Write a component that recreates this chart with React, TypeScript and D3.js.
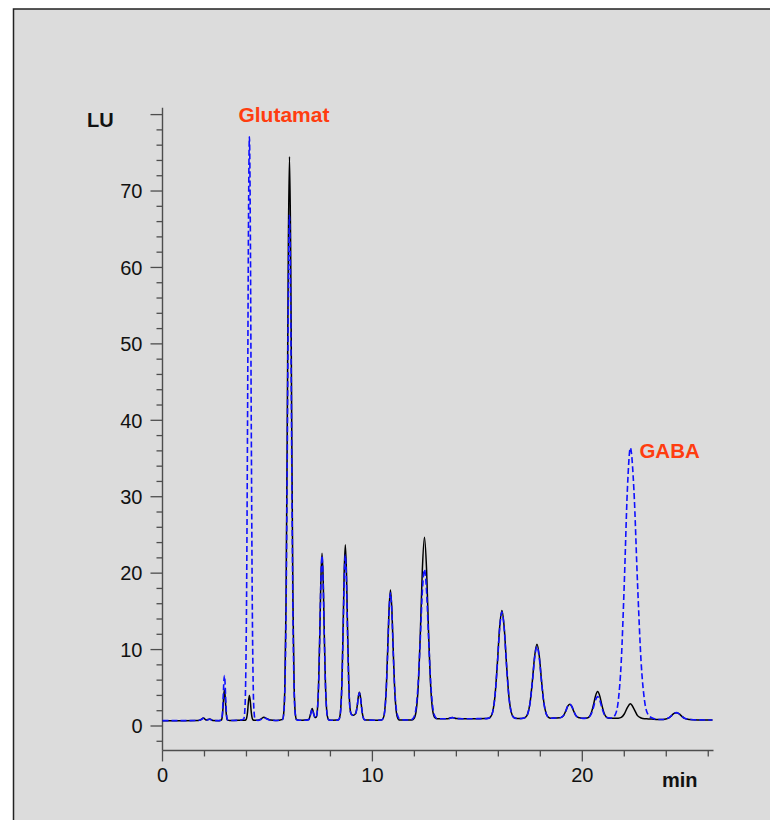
import React from "react";
import * as d3 from "d3";

// Retention time (min) and detector response (LU)
const times = [
  0, 1.0, 1.7, 1.8, 1.95, 2.08, 2.25, 2.4, 2.7,
  2.8, 2.83, 2.86, 2.89, 2.92, 2.95, 2.98, 3.01, 3.04, 3.07, 3.1, 3.2, 3.6,
  3.87, 3.915, 3.96, 4.005, 4.05, 4.095, 4.14, 4.185, 4.23, 4.275, 4.32, 4.365, 4.41,
  4.55, 4.68, 4.83, 4.98, 5.15, 5.4,
  5.72, 5.775, 5.83, 5.885, 5.94, 5.995, 6.05, 6.105, 6.16, 6.215, 6.27, 6.325, 6.38, 6.5, 6.8,
  6.97, 7.05, 7.13, 7.21, 7.27, 7.325, 7.38, 7.435, 7.49, 7.545, 7.6, 7.655, 7.71, 7.765, 7.82, 7.875, 7.93, 8.1, 8.3,
  8.38, 8.435, 8.49, 8.545, 8.6, 8.655, 8.71, 8.765, 8.82, 8.875, 8.93, 8.985, 9.04, 9.1, 9.18, 9.23, 9.28, 9.33, 9.38, 9.43, 9.48, 9.53, 9.58, 9.63, 9.8, 10.1,
  10.44, 10.51, 10.58, 10.65, 10.72, 10.79, 10.86, 10.93, 11.0, 11.07, 11.14, 11.21, 11.28, 11.5, 11.75,
  11.88, 11.98, 12.08, 12.18, 12.28, 12.38, 12.48, 12.58, 12.68, 12.78, 12.88, 12.98, 13.08, 13.3, 13.6, 13.8, 14.0, 14.5, 15.0, 15.35,
  15.51, 15.62, 15.73, 15.84, 15.95, 16.06, 16.17, 16.28, 16.39, 16.5, 16.61, 16.72, 16.83, 17.0,
  17.18, 17.29, 17.4, 17.51, 17.62, 17.73, 17.84, 17.95, 18.06, 18.17, 18.28, 18.39, 18.5, 18.7,
  18.92, 19.02, 19.12, 19.21, 19.3, 19.4, 19.5, 19.59, 19.68, 19.78, 19.88, 20.03,
  20.23, 20.33, 20.43, 20.53, 20.63, 20.73, 20.83, 20.93, 21.03, 21.13, 21.23,
  21.42, 21.565, 21.71, 21.855, 22.0, 22.145, 22.29, 22.46, 22.63, 22.8, 22.97, 23.14, 23.31, 23.6,
  23.85, 23.98, 24.1, 24.23, 24.35, 24.48, 24.6, 24.73, 24.85, 24.98, 25.1, 25.5, 26.2,
];

const blackTrace = [
  0.7, 0.7, 0.72, 0.78, 1.05, 0.78, 0.92, 0.72, 0.7,
  0.77, 0.95, 1.54, 2.7, 4.06, 4.7, 4.06, 2.7, 1.54, 0.95, 0.77, 0.72, 0.75,
  0.75, 0.75, 0.78, 1.0, 1.78, 3.19, 4.0, 3.19, 1.78, 1.0, 0.78, 0.75, 0.75,
  0.76, 0.9, 1.15, 0.95, 0.78, 0.72,
  0.87, 1.69, 5.33, 16.2, 37.6, 62.8, 74.5, 62.8, 37.6, 16.2, 5.33, 1.69, 0.87, 0.75, 0.78,
  0.85, 1.53, 2.3, 1.53, 1.1, 1.15, 2.12, 5.34, 11.68, 19.13, 22.6, 19.13, 11.68, 5.34, 2.12, 1.04, 0.79, 0.76, 0.77,
  0.8, 1.06, 2.19, 5.58, 12.23, 20.05, 23.7, 20.05, 12.23, 5.58, 2.4, 1.6, 1.45, 1.4, 1.55, 1.9, 2.7, 3.85, 4.4, 3.82, 2.58, 1.52, 0.99, 0.81, 0.77, 0.76,
  0.79, 0.98, 1.83, 4.34, 9.28, 15.09, 17.8, 15.09, 9.28, 4.34, 1.83, 0.98, 0.79, 0.78, 0.78,
  0.8, 0.98, 1.89, 5.04, 11.88, 20.51, 24.7, 20.51, 11.88, 5.04, 1.89, 1.08, 0.95, 0.95, 0.96, 1.12, 0.98, 0.95, 0.96, 0.97,
  1.0, 1.16, 1.85, 3.94, 8.04, 12.85, 15.1, 12.85, 8.04, 3.94, 1.85, 1.16, 1.0, 0.97,
  1.02, 1.13, 1.61, 3.04, 5.85, 9.16, 10.7, 9.16, 5.85, 3.04, 1.61, 1.13, 1.02, 1.05,
  1.07, 1.16, 1.43, 1.95, 2.56, 2.84, 2.56, 1.95, 1.43, 1.16, 1.07, 1.0,
  1.05, 1.22, 1.74, 2.75, 3.94, 4.5, 3.94, 2.75, 1.74, 1.22, 1.05,
  1.0, 1.0, 1.02, 1.13, 1.57, 2.41, 2.9, 2.25, 1.36, 1.05, 0.95, 0.93, 0.9, 0.85,
  0.86, 0.91, 1.04, 1.3, 1.61, 1.75, 1.61, 1.3, 1.04, 0.91, 0.86, 0.8, 0.78,
];

const blueTrace = [
  0.7, 0.7, 0.72, 0.78, 1.0, 0.76, 0.88, 0.72, 0.7,
  0.81, 1.07, 1.94, 3.65, 5.66, 6.6, 5.66, 3.65, 1.94, 1.07, 0.81, 0.72, 0.74,
  0.9, 1.75, 5.5, 16.8, 38.9, 65.0, 77.1, 65.0, 38.9, 16.8, 5.5, 1.75, 0.9,
  0.74, 0.85, 1.08, 0.92, 0.76, 0.72,
  0.85, 1.59, 4.85, 14.6, 33.8, 56.3, 66.8, 56.3, 33.8, 14.6, 4.85, 1.59, 0.85, 0.75, 0.76,
  0.83, 1.45, 2.2, 1.48, 1.08, 1.14, 2.1, 5.28, 11.5, 18.9, 22.3, 18.9, 11.5, 5.28, 2.1, 1.03, 0.79, 0.76, 0.77,
  0.8, 1.04, 2.11, 5.3, 11.58, 18.96, 22.4, 18.96, 11.58, 5.3, 2.3, 1.55, 1.42, 1.38, 1.52, 1.85, 2.65, 3.8, 4.35, 3.78, 2.55, 1.5, 0.98, 0.8, 0.77, 0.76,
  0.79, 0.98, 1.8, 4.25, 9.08, 14.75, 17.4, 14.75, 9.08, 4.5, 2.2, 1.3, 0.95, 0.8, 0.78,
  0.85, 1.17, 2.38, 5.57, 11.29, 17.64, 20.5, 17.64, 11.29, 5.57, 2.38, 1.25, 0.97, 0.95, 0.95, 1.1, 0.97, 0.95, 0.96, 0.97,
  1.0, 1.15, 1.84, 3.9, 7.94, 12.69, 14.9, 12.69, 7.94, 3.9, 1.84, 1.15, 1.0, 0.97,
  1.02, 1.12, 1.59, 2.97, 5.7, 8.91, 10.4, 8.91, 5.7, 2.97, 1.59, 1.12, 1.02, 1.05,
  1.07, 1.16, 1.43, 1.95, 2.56, 2.84, 2.56, 1.95, 1.43, 1.16, 1.07, 1.0,
  1.04, 1.18, 1.6, 2.43, 3.4, 3.85, 3.4, 2.43, 1.6, 1.18, 1.08,
  1.05, 1.46, 3.21, 8.43, 18.7, 30.8, 36.4, 30.8, 18.7, 8.43, 3.21, 1.46, 1.07, 0.86,
  0.86, 0.91, 1.04, 1.3, 1.61, 1.75, 1.61, 1.3, 1.04, 0.91, 0.86, 0.8, 0.78,
];

const yTickValues = [0, 10, 20, 30, 40, 50, 60, 70, 80];
const yTickLabels = ["0", "10", "20", "30", "40", "50", "60", "70", ""];
const xTickValues = [0, 10, 20];
const xTickLabels = ["0", "10", "20"];
const annotations = [
  { label: "Glutamat", t: 4.14, v: 77.1 },
  { label: "GABA", t: 22.29, v: 36.4 },
];

const FONT = "'Liberation Sans', Arial, Helvetica, sans-serif";

export default function App() {
  const W = 770;
  const H = 820;
  const x = d3.scaleLinear().domain([0, 26.25]).range([162.5, 713.5]);
  const y = d3.scaleLinear().domain([0, 80]).range([726, 114.6]);
  const yMin = -3.2;
  const yMax = 80.9;

  const blackPts = times.map((t, i) => [t, blackTrace[i]] as [number, number]);
  const bluePts = times.map((t, i) => [t, blueTrace[i]] as [number, number]);
  const line = d3
    .line<[number, number]>()
    .x((d) => x(d[0]))
    .y((d) => y(d[1]))
    .curve(d3.curveMonotoneX);

  const yMinor = d3.range(-2, 80, 2).filter((v) => v % 10 !== 0);
  const xMinor = d3.range(2, 27, 2).filter((v) => v % 10 !== 0);
  const axisColor = "#4d4d4d";
  const x0 = x(0);
  const yAxisBottom = y(yMin);

  return (
    <svg
      width={W}
      height={H}
      style={{ position: "absolute", left: 0, top: 0, display: "block" }}
    >
      <rect x={0} y={0} width={W} height={H} fill="#ffffff" />
      <rect
        x={13.5}
        y={9}
        width={W + 20}
        height={H + 20}
        fill="#dcdcdc"
        stroke="#222"
        strokeWidth={1.5}
      />
      {/* Y axis */}
      <line x1={x0} x2={x0} y1={y(yMax)} y2={yAxisBottom} stroke={axisColor} strokeWidth={1.4} />
      {yTickValues.map((v, i) => (
        <g key={"ym" + v}>
          <line x1={x0 - 12} x2={x0} y1={y(v)} y2={y(v)} stroke={axisColor} strokeWidth={1.3} />
          <text
            x={x0 - 20}
            y={y(v)}
            dy="0.36em"
            textAnchor="end"
            fontFamily={FONT}
            fontSize={20}
            fill="#111"
          >
            {yTickLabels[i]}
          </text>
        </g>
      ))}
      {yMinor.map((v) => (
        <line key={"yn" + v} x1={x0 - 6} x2={x0} y1={y(v)} y2={y(v)} stroke={axisColor} strokeWidth={1.3} />
      ))}
      {/* X axis */}
      <line x1={x0} x2={x(26.25)} y1={yAxisBottom} y2={yAxisBottom} stroke={axisColor} strokeWidth={1.4} />
      {xTickValues.map((t, i) => (
        <g key={"xm" + t}>
          <line x1={x(t)} x2={x(t)} y1={yAxisBottom} y2={yAxisBottom + 11} stroke={axisColor} strokeWidth={1.3} />
          <text
            x={x(t)}
            y={782}
            textAnchor="middle"
            fontFamily={FONT}
            fontSize={20}
            fill="#111"
          >
            {xTickLabels[i]}
          </text>
        </g>
      ))}
      {xMinor.map((t) => (
        <line key={"xn" + t} x1={x(t)} x2={x(t)} y1={yAxisBottom} y2={yAxisBottom + 6} stroke={axisColor} strokeWidth={1.3} />
      ))}
      {/* Axis titles */}
      <text x={87} y={127} fontFamily={FONT} fontSize={20} fontWeight="bold" fill="#111">
        LU
      </text>
      <text x={662} y={787} fontFamily={FONT} fontSize={20} fontWeight="bold" fill="#111">
        min
      </text>
      {/* Traces */}
      <path d={line(blackPts) || ""} fill="none" stroke="#000" strokeWidth={1.5} strokeLinejoin="round" />
      <path
        d={line(bluePts) || ""}
        fill="none"
        stroke="#1010ff"
        strokeWidth={1.6}
        strokeDasharray="6,3"
      />
      {/* Peak labels */}
      <text
        x={x(annotations[0].t) - 11}
        y={y(annotations[0].v) - 15}
        fontFamily={FONT}
        fontSize={21}
        fontWeight="bold"
        fill="#ff3d10"
      >
        {annotations[0].label}
      </text>
      <text
        x={x(annotations[1].t) + 9}
        y={y(annotations[1].v) + 10}
        fontFamily={FONT}
        fontSize={20.5}
        fontWeight="bold"
        fill="#ff3d10"
      >
        {annotations[1].label}
      </text>
    </svg>
  );
}
